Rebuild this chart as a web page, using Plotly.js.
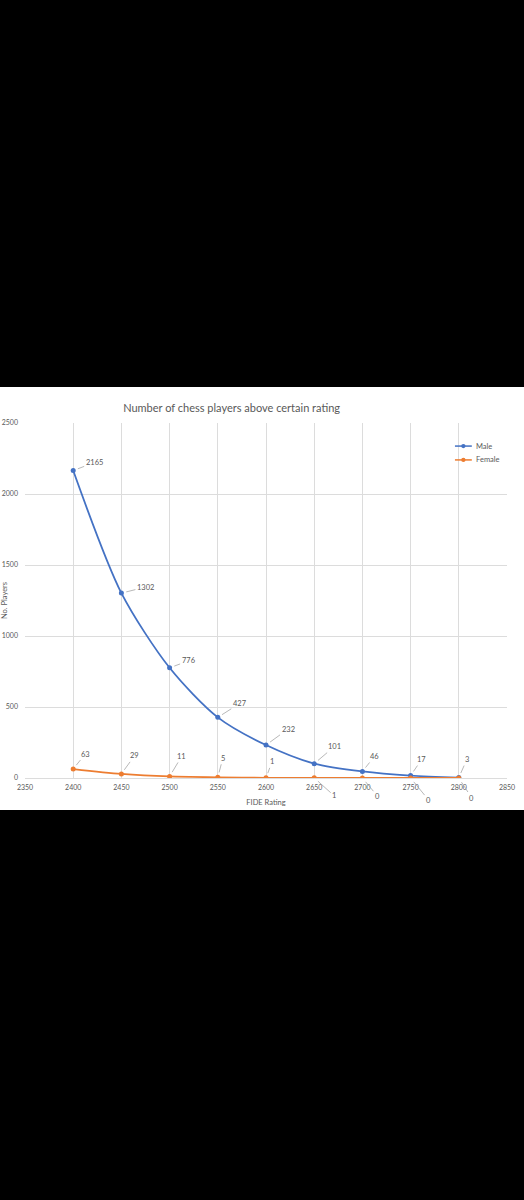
<!DOCTYPE html>
<html>
<head>
<meta charset="utf-8">
<script src="https://cdn.plot.ly/plotly-3.0.1.min.js"></script>
<style>
  html, body { margin: 0; padding: 0; background: #000; width: 524px; height: 1200px; overflow: hidden; }
  #chart { position: absolute; left: 0; top: 387px; width: 524px; height: 423px; background: #fff; }
</style>
</head>
<body>
<div id="chart"></div>
<script>
// ---- data ----
const ratings = [2400, 2450, 2500, 2550, 2600, 2650, 2700, 2750, 2800];
const male    = [2165, 1302, 776, 427, 232, 101, 46, 17, 3];
const female  = [63, 29, 11, 5, 1, 1, 0, 0, 0];
const seriesNames = ['Male', 'Female'];
const chartTitle = 'Number of chess players above certain rating';
const xTitle = 'FIDE Rating';
const yTitle = 'No. Players';

// ---- label placement (pixel offsets of data labels) ----
const maleLabelOffsets = [[21,-8],[24,-6],[19,-7],[22,-14],[22,-16],[20,-17],[12,-15],[11,-16],[8,-18]];
const femaleLabelOffsets = [[12,-15],[13,-18],[12,-20],[5,-19],[6,-16],[20,18],[15,18],[18,22],[13,20]];

const blue = '#4472C4';
const orange = '#ED7D31';
const colors = [blue, orange];
const textGrey = '#595959';
const fontFam = 'Lato, "Open Sans", sans-serif';

function makeLabels(xs, ys, offs) {
  return xs.map((x, i) => ({
    x: x, y: ys[i], xref: 'x', yref: 'y',
    text: String(ys[i]),
    showarrow: true, arrowhead: 0, arrowwidth: 0.8, arrowcolor: '#a6a6a6',
    ax: offs[i][0], ay: offs[i][1], standoff: 5,
    font: {family: fontFam, size: 7.5, color: textGrey}
  }));
}

const traces = [
  {x: ratings, y: male, name: seriesNames[0], type: 'scatter', mode: 'lines+markers',
   line: {color: blue, width: 1.8, shape: 'spline', smoothing: 0.8},
   marker: {color: blue, size: 5}},
  {x: ratings, y: female, name: seriesNames[1], type: 'scatter', mode: 'lines+markers',
   line: {color: orange, width: 1.8, shape: 'spline', smoothing: 0.8},
   marker: {color: orange, size: 5}}
];

// custom compact legend (Excel-style short line with marker)
const legendY = [0.935, 0.896];
const legendShapes = [];
const legendTexts = [];
seriesNames.forEach((n, i) => {
  legendShapes.push({type: 'line', xref: 'paper', yref: 'paper', x0: 0.892, x1: 0.927, y0: legendY[i], y1: legendY[i],
                     line: {color: colors[i], width: 1.5}});
  legendShapes.push({type: 'circle', xref: 'paper', yref: 'paper',
                     x0: 0.9095 - 0.0045, x1: 0.9095 + 0.0045, y0: legendY[i] - 0.0061, y1: legendY[i] + 0.0061,
                     fillcolor: colors[i], line: {color: colors[i], width: 0}});
  legendTexts.push({xref: 'paper', yref: 'paper', x: 0.931, y: legendY[i], xanchor: 'left', yanchor: 'middle',
                    text: n, showarrow: false, font: {family: fontFam, size: 7.5, color: textGrey}});
});

const layout = {
  width: 524, height: 423,
  margin: {l: 25, r: 17, t: 36, b: 32},
  paper_bgcolor: '#fff', plot_bgcolor: '#fff',
  font: {family: fontFam, color: textGrey, size: 7},
  title: {text: chartTitle, x: 0.442, xanchor: 'center', y: 0.95, yanchor: 'middle',
          font: {family: fontFam, size: 11, color: textGrey}},
  xaxis: {range: [2350, 2850], dtick: 50, tick0: 2350, showgrid: true, gridcolor: '#dcdcdc', gridwidth: 1,
          zeroline: false, showline: false, ticks: '', ticklabelstandoff: 4,
          tickfont: {family: fontFam, size: 7, color: textGrey},
          title: {text: xTitle, standoff: 9, font: {family: fontFam, size: 7.5, color: textGrey}}},
  yaxis: {range: [0, 2500], dtick: 500, showgrid: true, gridcolor: '#dcdcdc', gridwidth: 1,
          zeroline: true, zerolinecolor: '#dcdcdc', zerolinewidth: 1, showline: false, ticks: '',
          ticklabelstandoff: 6,
          tickfont: {family: fontFam, size: 7, color: textGrey},
          title: {text: yTitle, standoff: 0, font: {family: fontFam, size: 7.5, color: textGrey}}},
  showlegend: false,
  shapes: legendShapes,
  annotations: makeLabels(ratings, male, maleLabelOffsets)
    .concat(makeLabels(ratings, female, femaleLabelOffsets))
    .concat(legendTexts)
};

Plotly.newPlot('chart', traces, layout, {displayModeBar: false, staticPlot: true});
</script>
</body>
</html>
